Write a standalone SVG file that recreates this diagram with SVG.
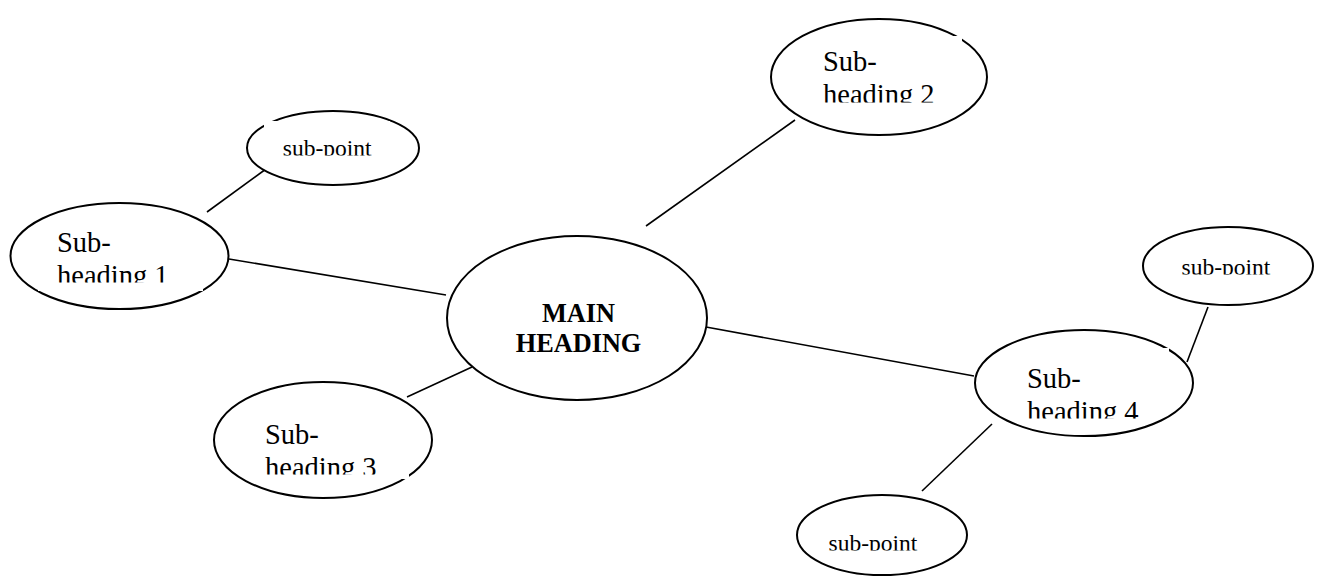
<svg xmlns="http://www.w3.org/2000/svg" width="1317" height="578" viewBox="0 0 1317 578">
<style>
.n{fill:#fff;stroke:#000;stroke-width:2}
.b{fill:#fff}
.c line{stroke:#000;stroke-width:1.6}
.t{font-family:"Liberation Serif","Times New Roman",serif;fill:#000}
.h{font-size:28.5px}
.s{font-size:23.5px}
.m{font-size:26.3px;font-weight:bold}
</style>
<defs>
<clipPath id="c1"><rect x="38" y="225" width="165" height="57.5"/></clipPath>
<clipPath id="c2"><rect x="805" y="36" width="157" height="66.5"/></clipPath>
<clipPath id="c3"><rect x="250" y="405" width="159" height="69.5"/></clipPath>
<clipPath id="c4"><rect x="1010" y="348" width="159" height="70.5"/></clipPath>
<clipPath id="cp1"><rect x="264" y="121" width="136" height="34.5"/></clipPath>
<clipPath id="cp2"><rect x="1160" y="240" width="136" height="34.5"/></clipPath>
<clipPath id="cp3"><rect x="812" y="515" width="140" height="35.5"/></clipPath>
</defs>
<g class="c" id="connectors">
<line x1="207" y1="212" x2="266" y2="169"/>
<line x1="229" y1="259" x2="446" y2="295"/>
<line x1="646" y1="226" x2="795" y2="120"/>
<line x1="472" y1="367" x2="407" y2="397"/>
<line x1="706" y1="327" x2="974" y2="376"/>
<line x1="1187" y1="362" x2="1208" y2="307"/>
<line x1="992" y1="424" x2="922" y2="491"/>
</g>
<g id="main">
<ellipse class="n" cx="577" cy="318" rx="130" ry="82"/>
<text class="t m" x="578.5" y="322" text-anchor="middle">MAIN</text>
<text class="t m" x="578.5" y="352" text-anchor="middle">HEADING</text>
</g>
<g id="sub1">
<ellipse class="n" cx="119.5" cy="256" rx="109" ry="53"/>
<rect class="b" x="38" y="230" width="165" height="61"/>
<g clip-path="url(#c1)"><text class="t h" x="57" y="251.5">Sub-</text><text class="t h" x="57" y="284.5">heading 1</text></g>
</g>
<g id="sub2">
<ellipse class="n" cx="879" cy="77" rx="108" ry="58"/>
<rect class="b" x="805" y="36" width="157" height="74"/>
<g clip-path="url(#c2)"><text class="t h" x="823" y="71">Sub-</text><text class="t h" x="823" y="104">heading 2</text></g>
</g>
<g id="sub3">
<ellipse class="n" cx="323" cy="440" rx="109" ry="58"/>
<rect class="b" x="250" y="410" width="159" height="69"/>
<g clip-path="url(#c3)"><text class="t h" x="265" y="443.5">Sub-</text><text class="t h" x="265" y="476.5">heading 3</text></g>
</g>
<g id="sub4">
<ellipse class="n" cx="1084" cy="383" rx="109" ry="53"/>
<rect class="b" x="1010" y="348" width="159" height="67"/>
<g clip-path="url(#c4)"><text class="t h" x="1027" y="387.5">Sub-</text><text class="t h" x="1027" y="420.5">heading 4</text></g>
</g>
<g id="point1">
<ellipse class="n" cx="333" cy="148" rx="86" ry="37"/>
<rect class="b" x="264" y="121" width="126" height="39"/>
<g clip-path="url(#cp1)"><text class="t s" x="327.2" y="155.5" text-anchor="middle">sub-point</text></g>
</g>
<g id="point2">
<ellipse class="n" cx="1228" cy="266" rx="85" ry="39"/>
<g clip-path="url(#cp2)"><text class="t s" x="1226" y="274.5" text-anchor="middle">sub-point</text></g>
</g>
<g id="point3">
<ellipse class="n" cx="882" cy="535" rx="85" ry="40"/>
<g clip-path="url(#cp3)"><text class="t s" x="873" y="550.5" text-anchor="middle">sub-point</text></g>
</g>
</svg>
